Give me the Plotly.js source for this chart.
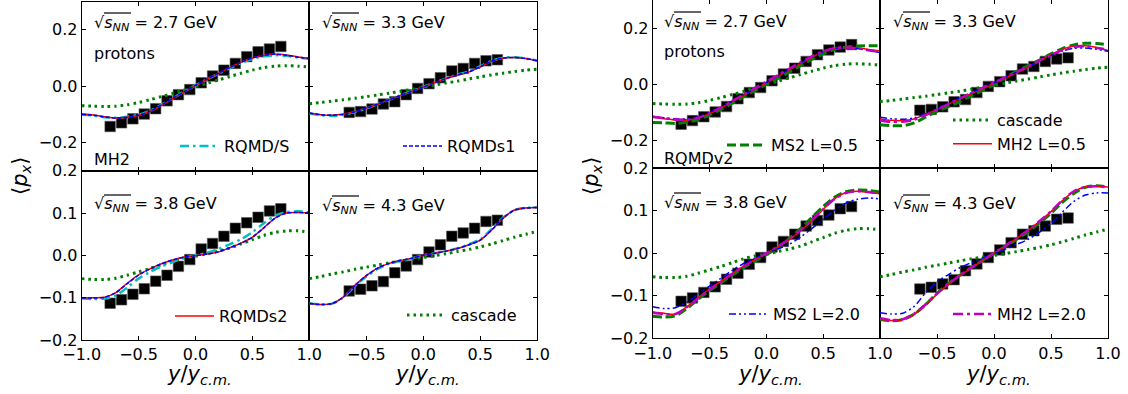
<!DOCTYPE html>
<html><head><meta charset="utf-8">
<script src="https://cdn.plot.ly/plotly-3.0.1.min.js"></script>
<style>body{margin:0;background:#fff}#plot{width:1128px;height:394px}</style>
</head><body><div id="plot"></div>
<script>
// ---------- data ----------
const xModel = [-1.0,-0.9,-0.8,-0.7,-0.6,-0.5,-0.4,-0.3,-0.2,-0.1,0.0,0.1,0.2,0.3,0.4,0.5,0.6,0.7,0.8,0.9,1.0];
const xData16 = [-0.75,-0.65,-0.55,-0.45,-0.35,-0.25,-0.15,-0.05,0.05,0.15,0.25,0.35,0.45,0.55,0.65,0.75];
const xData14 = [-0.65,-0.55,-0.45,-0.35,-0.25,-0.15,-0.05,0.05,0.15,0.25,0.35,0.45,0.55,0.65];

const data27 = [-0.143,-0.130,-0.116,-0.099,-0.080,-0.052,-0.030,-0.012,0.012,0.036,0.057,0.081,0.105,0.122,0.132,0.141];
const data33 = [-0.093,-0.090,-0.081,-0.063,-0.055,-0.030,-0.008,0.009,0.030,0.054,0.063,0.081,0.090,0.094];
const data38 = [-0.113,-0.105,-0.092,-0.079,-0.061,-0.047,-0.026,-0.010,0.015,0.028,0.045,0.064,0.077,0.090,0.105,0.110];
const data43 = [-0.084,-0.080,-0.072,-0.062,-0.041,-0.025,-0.010,0.008,0.025,0.045,0.053,0.064,0.080,0.083];

const cascade27 = [-0.069,-0.071,-0.072,-0.071,-0.066,-0.058,-0.048,-0.037,-0.026,-0.013,-0.002,0.010,0.022,0.034,0.046,0.057,0.066,0.071,0.073,0.071,0.068];
const cascade33 = [-0.062,-0.058,-0.053,-0.048,-0.043,-0.037,-0.031,-0.025,-0.018,-0.011,-0.004,0.004,0.011,0.018,0.026,0.033,0.040,0.046,0.052,0.057,0.060];
const cascade38 = [-0.055,-0.057,-0.057,-0.054,-0.047,-0.039,-0.031,-0.022,-0.013,-0.006,-0.002,0.004,0.010,0.017,0.027,0.037,0.047,0.054,0.058,0.058,0.055];
const cascade43 = [-0.055,-0.050,-0.044,-0.039,-0.033,-0.028,-0.023,-0.018,-0.013,-0.009,-0.005,-0.001,0.004,0.009,0.014,0.020,0.027,0.035,0.043,0.050,0.057];

// RQMD (MH2) models
const rqmdS27  = [-0.101,-0.104,-0.110,-0.112,-0.108,-0.101,-0.087,-0.066,-0.043,-0.019,0.003,0.024,0.044,0.064,0.082,0.097,0.106,0.110,0.108,0.102,0.097];
const rqmds1_27 = [-0.100,-0.103,-0.109,-0.113,-0.110,-0.103,-0.089,-0.067,-0.043,-0.020,0.003,0.025,0.046,0.066,0.085,0.100,0.110,0.113,0.110,0.103,0.098];
const rqmds2_27 = [-0.099,-0.102,-0.108,-0.113,-0.110,-0.104,-0.090,-0.068,-0.044,-0.020,0.002,0.024,0.045,0.066,0.085,0.100,0.110,0.114,0.111,0.104,0.099];
const rqmdS33  = [-0.097,-0.103,-0.105,-0.101,-0.092,-0.079,-0.064,-0.048,-0.032,-0.017,-0.002,0.013,0.028,0.041,0.053,0.071,0.090,0.101,0.103,0.098,0.091];
const rqmds1_33 = [-0.095,-0.101,-0.103,-0.100,-0.091,-0.078,-0.064,-0.048,-0.033,-0.018,-0.003,0.013,0.027,0.040,0.051,0.069,0.089,0.100,0.102,0.098,0.090];
const rqmds2_33 = [-0.095,-0.101,-0.103,-0.099,-0.091,-0.078,-0.064,-0.048,-0.033,-0.018,-0.003,0.013,0.027,0.039,0.050,0.068,0.088,0.099,0.102,0.098,0.090];
const rqmdS38  = [-0.102,-0.103,-0.102,-0.095,-0.076,-0.055,-0.039,-0.026,-0.016,-0.006,0.000,0.006,0.015,0.026,0.038,0.055,0.076,0.094,0.102,0.104,0.102];
const rqmds1_38 = [-0.100,-0.101,-0.099,-0.088,-0.067,-0.047,-0.032,-0.020,-0.011,-0.004,-0.001,0.003,0.008,0.018,0.029,0.043,0.065,0.088,0.100,0.101,0.100];
const rqmds2_38 = [-0.100,-0.100,-0.099,-0.088,-0.066,-0.046,-0.032,-0.020,-0.011,-0.004,-0.001,0.003,0.008,0.018,0.029,0.043,0.065,0.088,0.100,0.101,0.100];
const rqmdS43  = [-0.113,-0.116,-0.114,-0.099,-0.073,-0.050,-0.032,-0.020,-0.013,-0.007,0.000,0.005,0.010,0.017,0.026,0.038,0.062,0.089,0.107,0.112,0.113];
const rqmds1_43 = [-0.114,-0.116,-0.114,-0.098,-0.071,-0.048,-0.030,-0.019,-0.012,-0.007,0.000,0.005,0.010,0.016,0.025,0.036,0.060,0.088,0.107,0.112,0.113];
const rqmds2_43 = [-0.114,-0.116,-0.114,-0.098,-0.071,-0.048,-0.030,-0.019,-0.012,-0.007,0.000,0.005,0.010,0.016,0.025,0.036,0.060,0.088,0.107,0.112,0.113];

// RQMDv2 models
const ms2L05_27 = [-0.137,-0.138,-0.140,-0.136,-0.126,-0.110,-0.090,-0.068,-0.045,-0.022,0.000,0.021,0.043,0.066,0.088,0.108,0.124,0.132,0.136,0.137,0.137];
const mh2L05_27 = [-0.118,-0.123,-0.128,-0.128,-0.120,-0.105,-0.085,-0.062,-0.040,-0.018,0.004,0.027,0.050,0.073,0.096,0.115,0.127,0.131,0.130,0.124,0.119];
const ms2L20_27 = [-0.115,-0.120,-0.124,-0.124,-0.116,-0.101,-0.082,-0.060,-0.038,-0.016,0.006,0.029,0.052,0.075,0.097,0.115,0.126,0.130,0.127,0.119,0.113];
const mh2L20_27 = [-0.116,-0.121,-0.126,-0.127,-0.120,-0.104,-0.083,-0.060,-0.037,-0.014,0.009,0.032,0.055,0.078,0.099,0.117,0.128,0.131,0.128,0.121,0.115];
const ms2L05_33 = [-0.145,-0.148,-0.148,-0.138,-0.118,-0.097,-0.080,-0.062,-0.042,-0.022,-0.001,0.023,0.046,0.066,0.086,0.108,0.127,0.140,0.146,0.145,0.140];
const mh2L05_33 = [-0.124,-0.129,-0.130,-0.124,-0.108,-0.090,-0.071,-0.052,-0.034,-0.016,0.003,0.022,0.041,0.061,0.083,0.105,0.124,0.136,0.137,0.131,0.120];
const ms2L20_33 = [-0.118,-0.123,-0.125,-0.120,-0.105,-0.087,-0.068,-0.049,-0.031,-0.013,0.005,0.024,0.043,0.062,0.082,0.102,0.118,0.128,0.129,0.124,0.117];
const mh2L20_33 = [-0.130,-0.134,-0.134,-0.127,-0.110,-0.091,-0.071,-0.051,-0.032,-0.013,0.006,0.025,0.044,0.063,0.084,0.104,0.121,0.132,0.135,0.129,0.123];
const ms2L05_38 = [-0.148,-0.150,-0.147,-0.130,-0.108,-0.088,-0.070,-0.051,-0.034,-0.018,-0.003,0.013,0.034,0.058,0.084,0.110,0.132,0.145,0.149,0.148,0.144];
const mh2L05_38 = [-0.138,-0.141,-0.143,-0.126,-0.104,-0.084,-0.066,-0.047,-0.030,-0.015,-0.001,0.015,0.032,0.053,0.076,0.103,0.128,0.143,0.146,0.143,0.140];
const ms2L20_38 = [-0.126,-0.130,-0.128,-0.115,-0.096,-0.077,-0.059,-0.040,-0.024,-0.011,0.000,0.010,0.021,0.038,0.058,0.080,0.101,0.118,0.127,0.130,0.128];
const mh2L20_38 = [-0.140,-0.143,-0.143,-0.127,-0.106,-0.085,-0.067,-0.048,-0.031,-0.015,0.000,0.016,0.033,0.054,0.078,0.104,0.128,0.142,0.146,0.144,0.141];
const ms2L05_43 = [-0.156,-0.159,-0.156,-0.143,-0.121,-0.094,-0.072,-0.052,-0.034,-0.017,0.000,0.016,0.033,0.051,0.072,0.094,0.120,0.141,0.155,0.159,0.156];
const mh2L05_43 = [-0.155,-0.158,-0.156,-0.144,-0.122,-0.096,-0.073,-0.053,-0.035,-0.017,0.000,0.017,0.035,0.054,0.075,0.098,0.124,0.145,0.156,0.158,0.156];
const ms2L20_43 = [-0.140,-0.143,-0.141,-0.125,-0.093,-0.067,-0.050,-0.034,-0.022,-0.011,0.000,0.010,0.021,0.033,0.050,0.070,0.097,0.122,0.137,0.142,0.142];
const mh2L20_43 = [-0.153,-0.157,-0.155,-0.142,-0.120,-0.095,-0.072,-0.052,-0.034,-0.017,0.001,0.018,0.036,0.055,0.076,0.099,0.125,0.146,0.156,0.158,0.155];

const energies = ['2.7','3.3','3.8','4.3'];
const xTickVals = [-1.0,-0.5,0.0,0.5,1.0];
const xTickTextFirst = ['\u22121.0','\u22120.5','0.0','0.5','1.0'];
const xTickTextOther = ['','\u22120.5','0.0','0.5','1.0'];
const yTickTop = [-0.2,0.0,0.2];
const yTickBottom = [-0.2,-0.1,0.0,0.1,0.2];

// ---------- styles ----------
const FONT = 'DejaVu Sans';
const sty = {
  data:   {mode:'markers', marker:{symbol:'square', size:10.5, color:'#000', line:{color:'#555', width:0.6}}},
  cascade:{color:'#008000', width:3, dash:'2.5px,4px'},
  rS:     {color:'#00bfbf', width:2.5, dash:'9px,4px,2.5px,4px'},
  r1:     {color:'#0000ff', width:1.5, dash:'4px,2px'},
  r2:     {color:'#ff0000', width:1.5},
  ms05:   {color:'#008000', width:3, dash:'9px,4px'},
  mh05:   {color:'#ff0000', width:1.5},
  ms20:   {color:'#0000ff', width:1.5, dash:'7px,3px,2px,3px,2px,3px'},
  mh20:   {color:'#bf00bf', width:2.5, dash:'10px,4px,3px,4px'}
};

const traces = [];
function addData(p, xs, ys){
  traces.push(Object.assign({x:xs, y:ys, xaxis:'x'+(p===1?'':p), yaxis:'y'+(p===1?'':p), showlegend:false, hoverinfo:'skip'}, JSON.parse(JSON.stringify(sty.data))));
}
function addLine(p, ys, st, name, legend){
  const t = {x:xModel, y:ys, mode:'lines', line:Object.assign({shape:'spline', smoothing:0.8}, st),
    xaxis:'x'+(p===1?'':p), yaxis:'y'+(p===1?'':p), name:name, hoverinfo:'skip', showlegend:false};
  if (legend){ t.showlegend = true; t.legend = legend; }
  traces.push(t);
}

const dataSets = [[xData16,data27],[xData14,data33],[xData16,data38],[xData14,data43]];
const casc = [cascade27,cascade33,cascade38,cascade43];
const rS = [rqmdS27,rqmdS33,rqmdS38,rqmdS43];
const r1 = [rqmds1_27,rqmds1_33,rqmds1_38,rqmds1_43];
const r2 = [rqmds2_27,rqmds2_33,rqmds2_38,rqmds2_43];
const ms05 = [ms2L05_27,ms2L05_33,ms2L05_38,ms2L05_43];
const mh05 = [mh2L05_27,mh2L05_33,mh2L05_38,mh2L05_43];
const ms20 = [ms2L20_27,ms2L20_33,ms2L20_38,ms2L20_43];
const mh20 = [mh2L20_27,mh2L20_33,mh2L20_38,mh2L20_43];

for (let k=0;k<4;k++){
  const p = k+1;
  addData(p, dataSets[k][0], dataSets[k][1]);
  addLine(p, casc[k], sty.cascade, 'cascade', p===4?'legend4':null);
  addLine(p, rS[k], sty.rS, 'RQMD/S', p===1?'legend':null);
  addLine(p, r2[k], sty.r2, 'RQMDs2', p===3?'legend3':null);
  addLine(p, r1[k], sty.r1, 'RQMDs1', p===2?'legend2':null);
}
for (let k=0;k<4;k++){
  const p = k+5;
  addData(p, dataSets[k][0], dataSets[k][1]);
  addLine(p, casc[k], sty.cascade, 'cascade', p===6?'legend6':null);
  addLine(p, ms05[k], sty.ms05, 'MS2 L=0.5', p===5?'legend5':null);
  addLine(p, mh05[k], sty.mh05, 'MH2 L=0.5', p===6?'legend6':null);
  addLine(p, ms20[k], sty.ms20, 'MS2 L=2.0', p===7?'legend7':null);
  addLine(p, mh20[k], sty.mh20, 'MH2 L=2.0', p===8?'legend8':null);
}

// ---------- layout ----------
const W = 1128, H = 394;
const px = v => v / W, py = v => 1 - v / H;
const colDom = [[81.7,309.3],[309.3,537.3],[652.7,880],[880,1108]];
const rowDomL = [[1.7,170.7],[170.7,340]];
const rowDomR = [[0,168.3],[168.3,338.3]];
const layout = {
  width:W, height:H, margin:{l:0,r:0,t:0,b:0}, paper_bgcolor:'#fff', plot_bgcolor:'#fff',
  font:{family:FONT, size:16, color:'#000'}, annotations:[], shapes:[], hovermode:false
};
for (let p=1;p<=8;p++){
  const right = p>4;
  const col = (right?2:0) + ((p-1)%2);
  const row = Math.floor(((p-1)%4)/2);
  const rd = (right?rowDomR:rowDomL)[row];
  const first = (p-1)%2===0;
  const sfx = p===1?'':p;
  layout['xaxis'+sfx] = {
    domain:[px(colDom[col][0]), px(colDom[col][1])], anchor:'y'+sfx, range:[-1,1],
    tickvals:xTickVals, ticktext:first?xTickTextFirst:xTickTextOther,
    showticklabels: row===1, ticks:'inside', ticklen:4, tickwidth:1, tickcolor:'#000',
    showline:true, linecolor:'#000', linewidth:1, mirror:'ticks', showgrid:false, zeroline:false,
    tickfont:{size:16, family:FONT}, fixedrange:true
  };
  layout['yaxis'+sfx] = {
    domain:[py(rd[1]), py(rd[0])], anchor:'x'+sfx, range: row===0?[-0.3,0.3]:[-0.2,0.2],
    tickvals: row===0?yTickTop:yTickBottom, tickformat:'.1f',
    showticklabels: first, ticks:'inside', ticklen:4, tickwidth:1, tickcolor:'#000',
    showline:true, linecolor:'#000', linewidth:1, mirror:'ticks', showgrid:false, zeroline:false,
    tickfont:{size:16, family:FONT}, fixedrange:true
  };
}
// legends: [key, sample start px, center y px]
const legPos = [['legend',180,146],['legend2',403,146],['legend3',175,316],['legend4',407,315],
                ['legend5',727,145],['legend6',953,132],['legend7',729,314],['legend8',953,314]];
legPos.forEach(([k,sx,cy])=>{
  layout[k] = {x:px(sx-5), y:py(cy), xanchor:'left', yanchor:'middle', bgcolor:'rgba(0,0,0,0)',
    borderwidth:0, itemwidth:39, font:{family:FONT, size:16, color:'#000'}, tracegroupgap:0, traceorder:'normal'};
});

function ann(text, x, y, opts){
  layout.annotations.push(Object.assign({text:text, x:px(x), y:py(y), xref:'paper', yref:'paper',
    xanchor:'left', yanchor:'middle', showarrow:false, font:{family:FONT, size:16, color:'#000'}}, opts||{}));
}
const sq = e => '\u221a<i>s</i><sub><i>NN</i></sub> = ' + e + ' GeV';
// energy labels [left px, center y px]
const ePos = [[92,23],[320,23],[92,205],[320,206],[662,22],[891,22],[662,203],[891,205]];
ePos.forEach((pos,i)=>{
  ann(sq(energies[i%4]), pos[0], pos[1]);
  // overline of the square root
  layout.shapes.push({type:'line', xref:'paper', yref:'paper', x0:px(pos[0]+12), x1:px(pos[0]+39),
    y0:py(pos[1]-10), y1:py(pos[1]-10), line:{color:'#000', width:1.2}});
});
ann('protons', 92, 53); ann('MH2', 92, 159);
ann('protons', 662, 52); ann('RQMDv2', 662, 158);
// axis titles
const xt = '<i>y</i>/<i>y</i><sub><i>c.m.</i></sub>';
[195.5, 423.3, 766.3, 994].forEach(cx => ann(xt, cx+4, 375, {xanchor:'center', font:{family:FONT, size:21, color:'#000'}}));
const yt = '\u27e8<i>p</i><sub><i>x</i></sub>\u27e9';
[21, 592].forEach(cx => ann(yt, cx, 176, {xanchor:'center', textangle:-90, font:{family:FONT, size:21, color:'#000'}}));

Plotly.newPlot('plot', traces, layout, {staticPlot:true, displayModeBar:false});
</script>
</body></html>
